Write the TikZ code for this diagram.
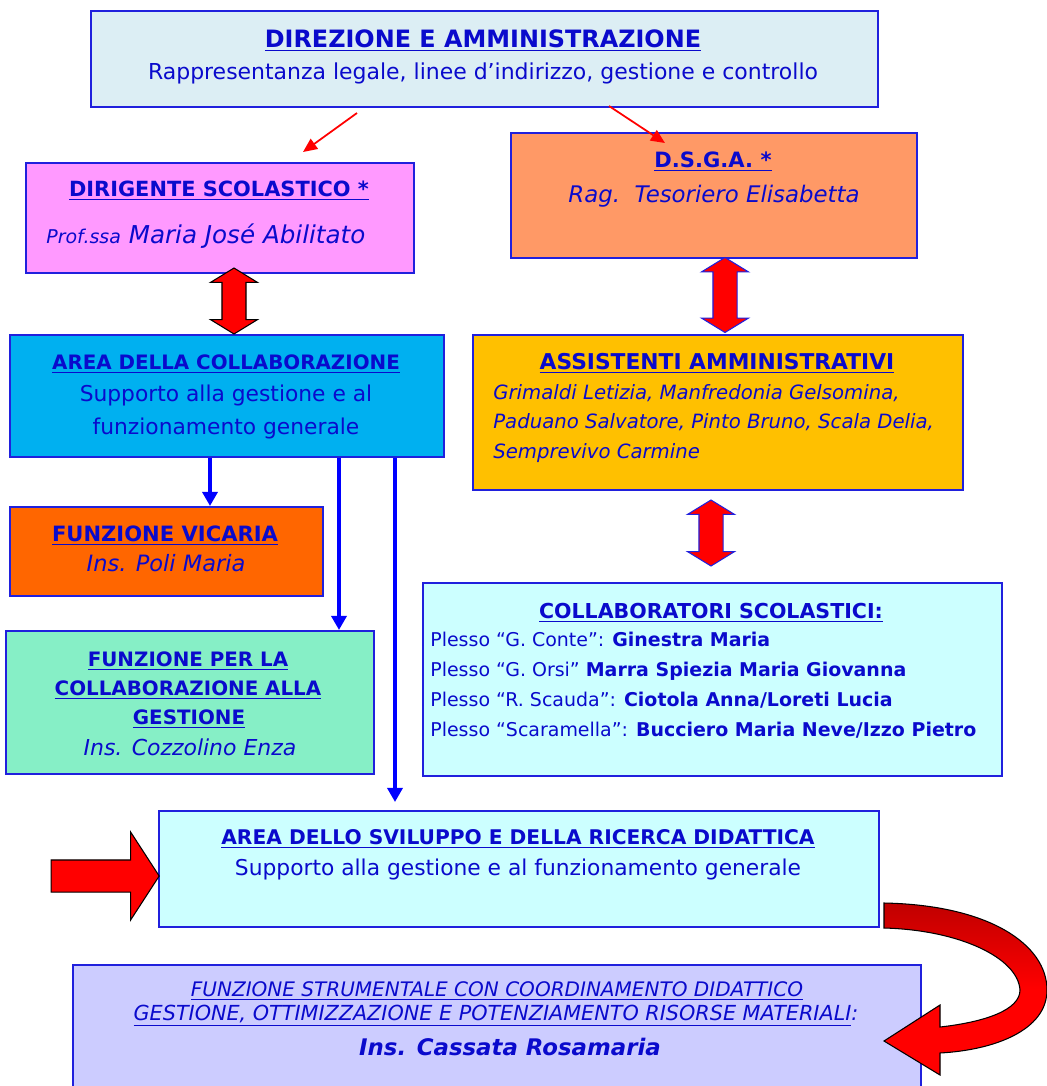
\documentclass[tikz,border=0pt]{standalone}
\usepackage{fontspec}
\setmainfont{DejaVu Sans}
\usetikzlibrary{shapes.arrows,arrows.meta}

\definecolor{txtblue}{HTML}{0A0ACC}
\definecolor{boxline}{HTML}{2020DD}
\definecolor{dirfill}{HTML}{DCEEF4}
\definecolor{dirigfill}{HTML}{FF99FF}
\definecolor{dsgafill}{HTML}{FF9966}
\definecolor{areafill}{HTML}{00B0F0}
\definecolor{assfill}{HTML}{FFC000}
\definecolor{vicfill}{HTML}{FF6600}
\definecolor{gestfill}{HTML}{86EFC6}
\definecolor{cyanfill}{HTML}{CCFFFF}
\definecolor{strumfill}{HTML}{CCCCFF}
\definecolor{arrdark}{HTML}{C00000}

\newcommand{\setsz}[1]{\fontsize{#1}{#1}\selectfont}

\tikzset{
  box/.style={draw=boxline,line width=1pt,inner sep=0pt,anchor=north west},
  ttl/.style={text=txtblue,font=\bfseries,anchor=mid,inner sep=0pt,yshift=-1.7pt},
  txt/.style={text=txtblue,anchor=mid,inner sep=0pt,yshift=-1.7pt},
  lefttxt/.style={text=txtblue,anchor=mid west,inner sep=0pt,yshift=-1.7pt},
  thinred/.style={red,line width=1pt,-{Triangle[length=8pt,width=7pt]}},
  bluearr/.style={draw=blue,line width=2pt,-{Triangle[length=8pt,width=8.5pt]}},
  updown/.style={double arrow,fill=red,line width=0.6pt,rotate=90,
    inner xsep=0pt,inner ysep=0.23cm,
    minimum height=1.32cm,minimum width=0.92cm,
    double arrow head extend=0.23cm,double arrow tip angle=117}
}

\begin{document}
\begin{tikzpicture}[x=0.02cm,y=-0.02cm]
\useasboundingbox[fill=white] (0,0) rectangle (1047,1086);

% boxes
\node[box,fill=dirfill,minimum width=15.74cm,minimum height=1.92cm] (dir) at (90,10) {};
\node[box,fill=dirigfill,minimum width=7.76cm,minimum height=2.2cm] (dirig) at (25,162) {};
\node[box,fill=dsgafill,minimum width=8.12cm,minimum height=2.5cm] (dsga) at (510,132) {};
\node[box,fill=areafill,minimum width=8.68cm,minimum height=2.44cm] (area) at (9,334) {};
\node[box,fill=assfill,minimum width=9.8cm,minimum height=3.1cm] (ass) at (472,334) {};
\node[box,fill=vicfill,minimum width=6.26cm,minimum height=1.78cm] (vic) at (9,506) {};
\node[box,fill=gestfill,minimum width=7.36cm,minimum height=2.86cm] (gest) at (5,630) {};
\node[box,fill=cyanfill,minimum width=11.58cm,minimum height=3.86cm] (scol) at (422,582) {};
\node[box,fill=cyanfill,minimum width=14.4cm,minimum height=2.32cm] (svil) at (158,810) {};
\node[box,fill=strumfill,minimum width=16.96cm,minimum height=2.6cm] (strum) at (72,964) {};

% texts
\node[ttl,font=\bfseries\setsz{13.6}] (dirT) at (483,40) {\underline{DIREZIONE E AMMINISTRAZIONE}};
\node[txt,font=\setsz{12.5}] (dirS) at (483,72) {Rappresentanza legale, linee d’indirizzo, gestione e controllo};

\node[ttl,font=\bfseries\setsz{11.9}] (dirigT) at (219,189) {\underline{DIRIGENTE SCOLASTICO *}};
\node[lefttxt,font=\itshape\setsz{14}] (dirigN) at (46,236) {{\setsz{10.8}Prof.ssa} Maria José Abilitato};

\node[ttl,font=\bfseries\setsz{12}] (dsgaT) at (713,160) {\underline{D.S.G.A. *}};
\node[txt,font=\itshape\setsz{13}] (dsgaN) at (714,195) {Rag.\ \ Tesoriero Elisabetta};

\node[ttl,font=\bfseries\setsz{11.3}] (areaT) at (226,362) {\underline{AREA DELLA COLLABORAZIONE}};
\node[txt,font=\setsz{12.4}] (areaA) at (226,394) {Supporto alla gestione e al};
\node[txt,font=\setsz{12.4}] (areaB) at (226,427) {funzionamento generale};

\node[ttl,font=\bfseries\setsz{12.4}] (assT) at (717,362) {\underline{ASSISTENTI AMMINISTRATIVI}};
\node[lefttxt,font=\itshape\setsz{11.2}] (assA) at (493,392) {Grimaldi Letizia, Manfredonia Gelsomina,};
\node[lefttxt,font=\itshape\setsz{11.2}] (assB) at (493,421) {Paduano Salvatore, Pinto Bruno, Scala Delia,};
\node[lefttxt,font=\itshape\setsz{11.2}] (assC) at (493,451) {Semprevivo Carmine};

\node[ttl,font=\bfseries\setsz{12}] (vicT) at (165,534) {\underline{FUNZIONE VICARIA}};
\node[txt,font=\itshape\setsz{12.8}] (vicN) at (166,564) {Ins. Poli Maria};

\node[ttl,font=\bfseries\setsz{11.3}] (gestA) at (188,659) {\underline{FUNZIONE PER LA}};
\node[ttl,font=\bfseries\setsz{11.3}] (gestB) at (188,688) {\underline{COLLABORAZIONE ALLA}};
\node[ttl,font=\bfseries\setsz{11.3}] (gestC) at (189,717) {\underline{GESTIONE}};
\node[txt,font=\itshape\setsz{12.5}] (gestN) at (190,748) {Ins. Cozzolino Enza};

\node[ttl,font=\bfseries\setsz{11.7}] (scolT) at (711,611) {\underline{COLLABORATORI SCOLASTICI:}};
\node[lefttxt,font=\setsz{10.8}] (scolA) at (430,639) {Plesso “G. Conte”: \textbf{Ginestra Maria}};
\node[lefttxt,font=\setsz{10.8}] (scolB) at (430,669) {Plesso “G. Orsi” \textbf{Marra Spiezia Maria Giovanna}};
\node[lefttxt,font=\setsz{10.8}] (scolC) at (430,699) {Plesso “R. Scauda”: \textbf{Ciotola Anna/Loreti Lucia}};
\node[lefttxt,font=\setsz{10.8}] (scolD) at (430,729) {Plesso “Scaramella”: \textbf{Bucciero Maria Neve/Izzo Pietro}};

\node[ttl,font=\bfseries\setsz{11.5}] (svilT) at (518,837) {\underline{AREA DELLO SVILUPPO E DELLA RICERCA DIDATTICA}};
\node[txt,font=\setsz{12.4}] (svilS) at (518,868) {Supporto alla gestione e al funzionamento generale};

\node[txt,font=\itshape\setsz{11.4}] (strumA) at (497,989) {\underline{FUNZIONE STRUMENTALE CON COORDINAMENTO DIDATTICO}};
\node[txt,font=\itshape\setsz{11.8}] (strumB) at (496,1013) {\underline{GESTIONE, OTTIMIZZAZIONE E POTENZIAMENTO RISORSE MATERIALI}:};
\node[txt,font=\bfseries\itshape\setsz{13}] (strumN) at (510,1048) {Ins. Cassata Rosamaria};

% thin red arrows
\coordinate (redA) at (357,113);
\coordinate (redB) at (303,152);
\coordinate (redC) at (609,106);
\coordinate (redD) at (665,143);
\draw[thinred] (redA) -- (redB);
\draw[thinred] (redC) -- (redD);

% blue arrows
\coordinate (colA) at (210,0);
\coordinate (colB) at (339,0);
\coordinate (colC) at (395,0);
\coordinate (colCend) at (395,802);
\draw[bluearr] (area.south -| colA) -- (vic.north -| colA);
\draw[bluearr] (area.south -| colB) -- (gest.north -| colB);
\draw[bluearr] (area.south -| colC) -- (colCend);

% block arrows
\node[updown,draw=black] (dblA) at (234,301) {};
\node[updown,draw=boxline,minimum height=1.5cm] (dblB) at (725,295) {};
\node[updown,draw=boxline] (dblC) at (711,533) {};
\node[single arrow,draw=black,fill=red,line width=0.6pt,
  inner xsep=0pt,inner ysep=0.31cm,
  minimum height=2.16cm,minimum width=1.74cm,
  single arrow head extend=0.56cm,single arrow tip angle=114] (sideA) at (100,876) {};

% curved arrow
\draw[black,line width=0.6pt,top color=arrdark,bottom color=red,middle color=red]
  (884,903) .. controls (990,905) and (1047,945) .. (1047,990)
  .. controls (1047,1030) and (995,1050) .. (940,1053)
  -- (940,1075) -- (884,1041) -- (940,1005) -- (940,1027)
  .. controls (985,1022) and (1020,1010) .. (1020,990)
  .. controls (1018,958) and (960,930) .. (884,928) -- cycle;
\end{tikzpicture}
\end{document}
